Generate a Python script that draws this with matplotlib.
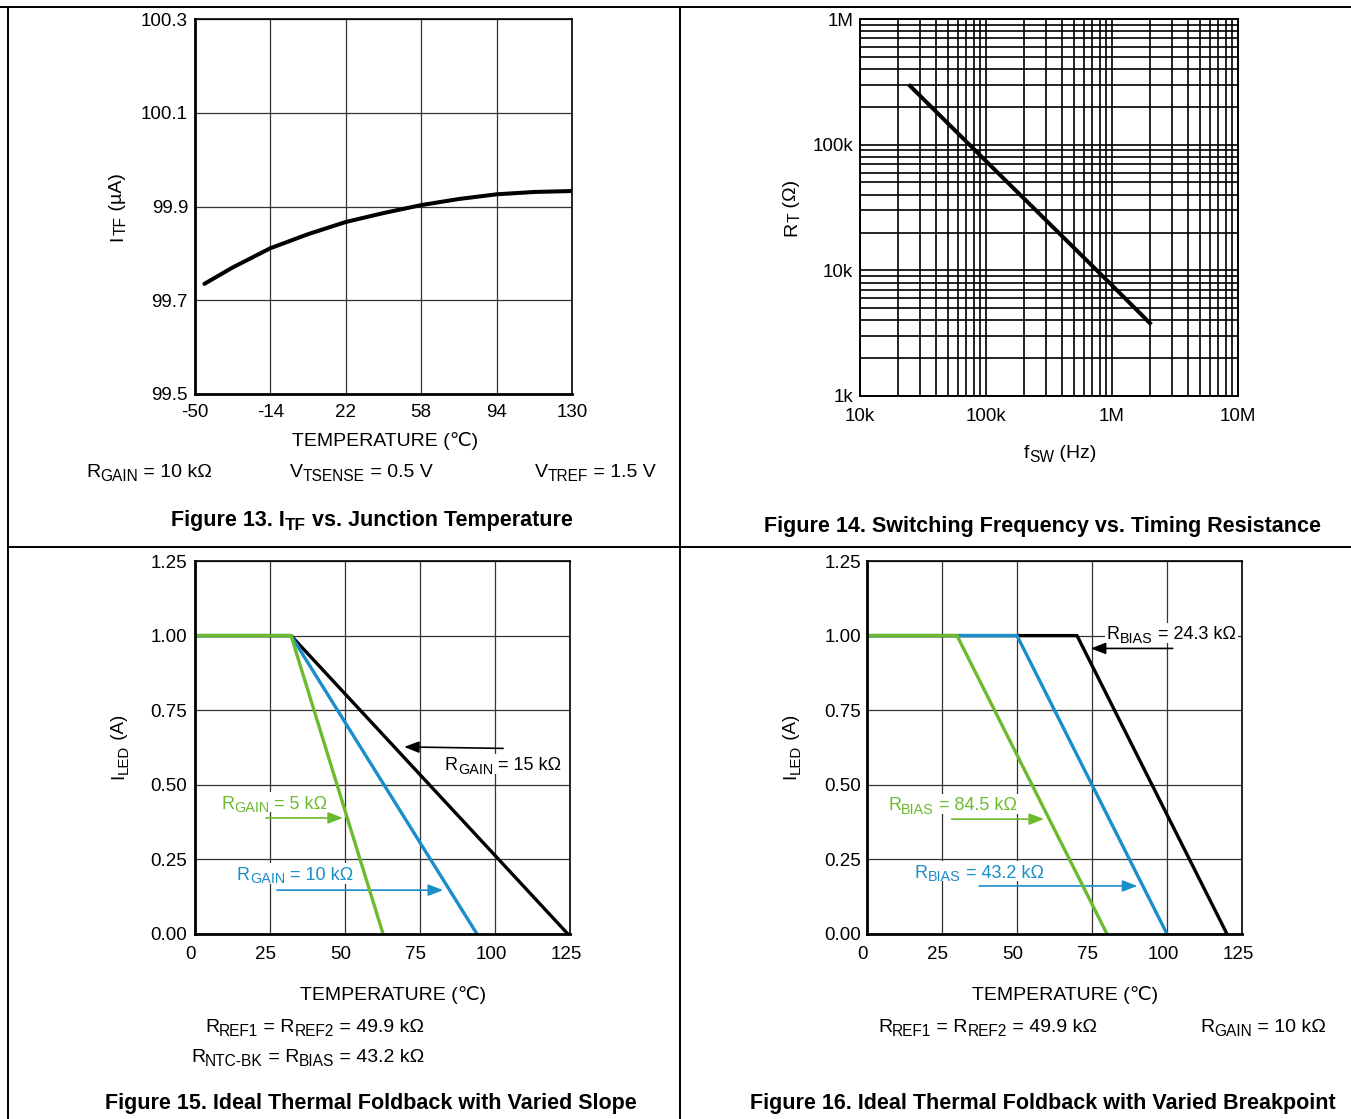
import matplotlib
matplotlib.use('Agg')
import matplotlib.pyplot as plt
import matplotlib.transforms as mtrans
from matplotlib.lines import Line2D
from matplotlib.patches import Rectangle
from matplotlib.ticker import FixedLocator, NullFormatter

plt.rcParams['font.family'] = ['Liberation Sans', 'DejaVu Sans']

# ---------------- data ----------------
# Figure 13
itf_temp = [-45.5, -32, -14, 4, 22, 40, 58, 76, 94, 112, 130]
itf_ua = [99.735, 99.770, 99.811, 99.841, 99.867, 99.886, 99.903, 99.916, 99.926, 99.931, 99.933]
f13_xticks = [-50, -14, 22, 58, 94, 130]
f13_yticks = [99.5, 99.7, 99.9, 100.1, 100.3]
f13_ylabels = ['99.5', '99.7', '99.9', '100.1', '100.3']

# Figure 14
fsw_hz = [25e3, 100e3, 1e6, 2e6]
rt_ohm = [293e3, 74e3, 7.6e3, 3.8e3]
f14_xticks = [1e4, 1e5, 1e6, 1e7]
f14_xlabels = ['10k', '100k', '1M', '10M']
f14_yticks = [1e3, 1e4, 1e5, 1e6]
f14_ylabels = ['1k', '10k', '100k', '1M']

# Figure 15 (varied slope)
f15_temp_5k = [0, 32, 62.7]
f15_iled_5k = [1.0, 1.0, 0.0]
f15_temp_10k = [0, 32, 94]
f15_iled_10k = [1.0, 1.0, 0.0]
f15_temp_15k = [0, 32, 124.3]
f15_iled_15k = [1.0, 1.0, 0.0]

# Figure 16 (varied breakpoint)
f16_temp_845k = [0, 30, 80]
f16_iled_845k = [1.0, 1.0, 0.0]
f16_temp_432k = [0, 50, 100]
f16_iled_432k = [1.0, 1.0, 0.0]
f16_temp_243k = [0, 70, 120]
f16_iled_243k = [1.0, 1.0, 0.0]

fold_xticks = [0, 25, 50, 75, 100, 125]
fold_yticks = [0.0, 0.25, 0.5, 0.75, 1.0, 1.25]

GREEN = '#6cbb2e'
BLUE = '#1a8ec9'

# ---------------- figure ----------------
W, H = 1351, 1119
DPI = 100
fig = plt.figure(figsize=(W / DPI, H / DPI), dpi=DPI)
renderer = fig.canvas.get_renderer()

SUB = 0.8       # subscript size ratio
DROP = 0.2      # subscript drop (fraction of font size)


def rect(l, t, r, b):
    return [l / W, 1 - b / H, (r - l) / W, (b - t) / H]


def _w(s, size, weight):
    t = fig.text(0, 0, s, fontsize=size, fontweight=weight)
    w = t.get_window_extent(renderer).width
    t.remove()
    return w


def text_width_pt(s, size, weight):
    return (_w('|' + s + '|', size, weight) - _w('||', size, weight)) * 72 / DPI


def rich(x, y, pieces, size=14, color='black', weight='normal', ha='left',
         rot=0, ax=None, transform=None, bbox=False, zorder=3):
    """pieces: list of (string, is_subscript); (x, y) is the anchor at the
    vertical centre of the capitals."""
    if transform is None:
        transform = fig.transFigure
    sizes = [size * SUB if sub else size for _, sub in pieces]
    widths = [text_width_pt(s, sz, weight) for (s, _), sz in zip(pieces, sizes)]
    total = sum(widths)
    adv = {'left': 0.0, 'center': -total / 2, 'right': -total}[ha]
    start = adv
    down0 = 0.358 * size  # centre of caps -> baseline
    target = ax if ax is not None else fig
    for (s, sub), sz, w in zip(pieces, sizes, widths):
        down = down0 + (DROP * size if sub else 0.0)
        if rot == 0:
            ox, oy = adv, -down
        else:
            ox, oy = down, adv
        tr = transform + mtrans.ScaledTranslation(ox / 72, oy / 72, fig.dpi_scale_trans)
        target.text(x, y, s, transform=tr, fontsize=sz, fontweight=weight, color=color,
                    ha='left', va='baseline', rotation=rot, rotation_mode='anchor',
                    zorder=zorder)
        adv += w
    if bbox and ax is not None:
        pad = 1.5
        h = 1.15 * size
        r = Rectangle(((start - pad) / 72, (-h / 2) / 72), (total + 2 * pad) / 72, h / 72,
                      transform=fig.dpi_scale_trans + mtrans.ScaledTranslation(x, y, transform),
                      facecolor='white', edgecolor='none', zorder=zorder - 0.1, clip_on=False)
        ax.add_artist(r)


def fpx(x, y):
    return x / W, 1 - y / H


def ftext(x, y, s, **kw):
    kw.setdefault('va', 'center')
    kw.setdefault('fontsize', 14)
    fig.text(*fpx(x, y), s, **kw)


def fline(x0, y0, x1, y1, lw=1.4):
    fig.add_artist(Line2D([x0 / W, x1 / W], [1 - y0 / H, 1 - y1 / H],
                          transform=fig.transFigure, color='black', lw=lw))


# panel borders
fline(0, 7, W, 7)
fline(8, 7, 8, H)
fline(680, 7, 680, H)
fline(8, 547, W, 547)


def style(ax, xpad, ypad, gcolor='#333333', glw=0.9):
    for s in ['left', 'bottom']:
        ax.spines[s].set_linewidth(2.0)
    for s in ['top', 'right']:
        ax.spines[s].set_linewidth(1.2)
    ax.tick_params(axis='both', which='both', length=0, labelsize=13.5)
    ax.tick_params(axis='x', pad=xpad)
    ax.tick_params(axis='y', pad=ypad)
    ax.grid(True, which='both', color=gcolor, lw=glw)
    ax.set_axisbelow(True)


def shift_xlabels(ax, dx_px):
    off = mtrans.ScaledTranslation(dx_px / DPI, 0, fig.dpi_scale_trans)
    for lbl in ax.get_xticklabels():
        lbl.set_transform(lbl.get_transform() + off)


# ---------- Figure 13 ----------
ax13 = fig.add_axes(rect(195, 19, 572, 394))
ax13.plot(itf_temp, itf_ua, color='black', lw=2.9, solid_capstyle='round',
          solid_joinstyle='round')
ax13.set_xlim(-50, 130)
ax13.set_ylim(99.5, 100.3)
ax13.set_xticks(f13_xticks)
ax13.set_yticks(f13_yticks)
ax13.set_xticklabels([str(v) for v in f13_xticks])
ax13.set_yticklabels(f13_ylabels)
style(ax13, 7, 5)
rich(*fpx(115, 207), [('I', 0), ('TF', 1), (' (µA)', 0)], rot=90, ha='center')
ftext(385, 441, 'TEMPERATURE (℃)', ha='center')
rich(*fpx(86, 470), [('R', 0), ('GAIN', 1), (' = 10 kΩ', 0)])
rich(*fpx(290, 470), [('V', 0), ('TSENSE', 1), (' = 0.5 V', 0)])
rich(*fpx(535, 470), [('V', 0), ('TREF', 1), (' = 1.5 V', 0)])
rich(*fpx(372, 518), [('Figure 13. I', 0), ('TF', 1), (' vs. Junction Temperature', 0)],
     size=15.5, weight='bold', ha='center')

# ---------- Figure 14 ----------
ax14 = fig.add_axes(rect(860, 19, 1238, 396))
ax14.set_xscale('log')
ax14.set_yscale('log')
ax14.plot(fsw_hz, rt_ohm, color='black', lw=2.9)
ax14.set_xlim(1e4, 1e7)
ax14.set_ylim(1e3, 1e6)
ax14.xaxis.set_major_locator(FixedLocator(f14_xticks))
ax14.yaxis.set_major_locator(FixedLocator(f14_yticks))
ax14.set_xticklabels(f14_xlabels)
ax14.set_yticklabels(f14_ylabels)
minors_x = [m * 10 ** e for e in range(4, 7) for m in range(2, 10)]
minors_y = [m * 10 ** e for e in range(3, 6) for m in range(2, 10)]
ax14.xaxis.set_minor_locator(FixedLocator(minors_x))
ax14.yaxis.set_minor_locator(FixedLocator(minors_y))
ax14.xaxis.set_minor_formatter(NullFormatter())
ax14.yaxis.set_minor_formatter(NullFormatter())
style(ax14, 8.5, 5, gcolor='black', glw=1.2)
for s in ax14.spines.values():
    s.set_linewidth(1.4)
rich(*fpx(789, 208), [('R', 0), ('T', 1), (' (Ω)', 0)], rot=90, ha='center')
rich(*fpx(1060, 451), [('f', 0), ('SW', 1), (' (Hz)', 0)], ha='center')
ftext(1043, 527, 'Figure 14. Switching Frequency vs. Timing Resistance',
      ha='center', fontweight='bold', fontsize=15.5)


# ---------- Figure 15 / 16 helpers ----------
def fold_axes(l, r):
    ax = fig.add_axes(rect(l, 561, r, 934))
    ax.set_xlim(0, 125)
    ax.set_ylim(0, 1.25)
    ax.set_xticks(fold_xticks)
    ax.set_yticks(fold_yticks)
    ax.set_xticklabels([str(v) for v in fold_xticks])
    ax.set_yticklabels(['%.2f' % v for v in fold_yticks])
    return ax


def label(ax, x, y, sub, rest, color):
    rich(x, y, [('R', 0), (sub, 1), (rest, 0)], size=13, color=color, ax=ax,
         transform=ax.transData, bbox=True, zorder=1.5)


def arrow(ax, x0, y0, x1, y1, color):
    ax.annotate('', xy=(x1, y1), xytext=(x0, y0), zorder=1.6,
                arrowprops=dict(arrowstyle='-|>,head_length=0.9,head_width=0.35',
                                color=color, lw=1.2, shrinkA=0, shrinkB=0))


# ---------- Figure 15 ----------
ax15 = fold_axes(195, 570)
ax15.plot(f15_temp_15k, f15_iled_15k, color='black', lw=2.4)
ax15.plot(f15_temp_10k, f15_iled_10k, color=BLUE, lw=2.4)
ax15.plot(f15_temp_5k, f15_iled_5k, color=GREEN, lw=2.4)
style(ax15, 8.5, 5.5)
shift_xlabels(ax15, -4)
label(ax15, 83.3, 0.570, 'GAIN', ' = 15 kΩ', 'black')
arrow(ax15, 102.7, 0.622, 69.7, 0.627, 'black')
label(ax15, 8.7, 0.442, 'GAIN', ' = 5 kΩ', GREEN)
arrow(ax15, 23.7, 0.389, 49.3, 0.389, GREEN)
label(ax15, 14.0, 0.204, 'GAIN', ' = 10 kΩ', BLUE)
arrow(ax15, 27.3, 0.147, 82.7, 0.147, BLUE)
rich(*fpx(117, 747), [('I', 0), ('LED', 1), (' (A)', 0)], size=13.5, rot=90, ha='center')
ftext(393, 995, 'TEMPERATURE (℃)', ha='center')
rich(*fpx(205, 1025), [('R', 0), ('REF1', 1), (' = R', 0), ('REF2', 1), (' = 49.9 kΩ', 0)])
rich(*fpx(191, 1055), [('R', 0), ('NTC-BK', 1), (' = R', 0), ('BIAS', 1), (' = 43.2 kΩ', 0)])
ftext(371, 1103, 'Figure 15. Ideal Thermal Foldback with Varied Slope',
      ha='center', fontweight='bold', fontsize=15.5)

# ---------- Figure 16 ----------
ax16 = fold_axes(867, 1242)
ax16.plot(f16_temp_243k, f16_iled_243k, color='black', lw=2.4)
ax16.plot(f16_temp_432k, f16_iled_432k, color=BLUE, lw=2.4)
ax16.plot(f16_temp_845k, f16_iled_845k, color=GREEN, lw=2.4)
style(ax16, 8.5, 4.3)
shift_xlabels(ax16, -4)
label(ax16, 80.0, 1.009, 'BIAS', ' = 24.3 kΩ', 'black')
arrow(ax16, 101.9, 0.957, 74.6, 0.957, 'black')
label(ax16, 7.0, 0.436, 'BIAS', ' = 84.5 kΩ', GREEN)
arrow(ax16, 28.2, 0.385, 59.0, 0.385, GREEN)
label(ax16, 16.0, 0.211, 'BIAS', ' = 43.2 kΩ', BLUE)
arrow(ax16, 37.4, 0.161, 90.1, 0.161, BLUE)
rich(*fpx(789, 747), [('I', 0), ('LED', 1), (' (A)', 0)], size=13.5, rot=90, ha='center')
ftext(1065, 995, 'TEMPERATURE (℃)', ha='center')
rich(*fpx(878, 1025), [('R', 0), ('REF1', 1), (' = R', 0), ('REF2', 1), (' = 49.9 kΩ', 0)])
rich(*fpx(1200, 1025), [('R', 0), ('GAIN', 1), (' = 10 kΩ', 0)])
ftext(1043, 1103, 'Figure 16. Ideal Thermal Foldback with Varied Breakpoint',
      ha='center', fontweight='bold', fontsize=15.5)

fig.savefig('out.png', dpi=DPI)
